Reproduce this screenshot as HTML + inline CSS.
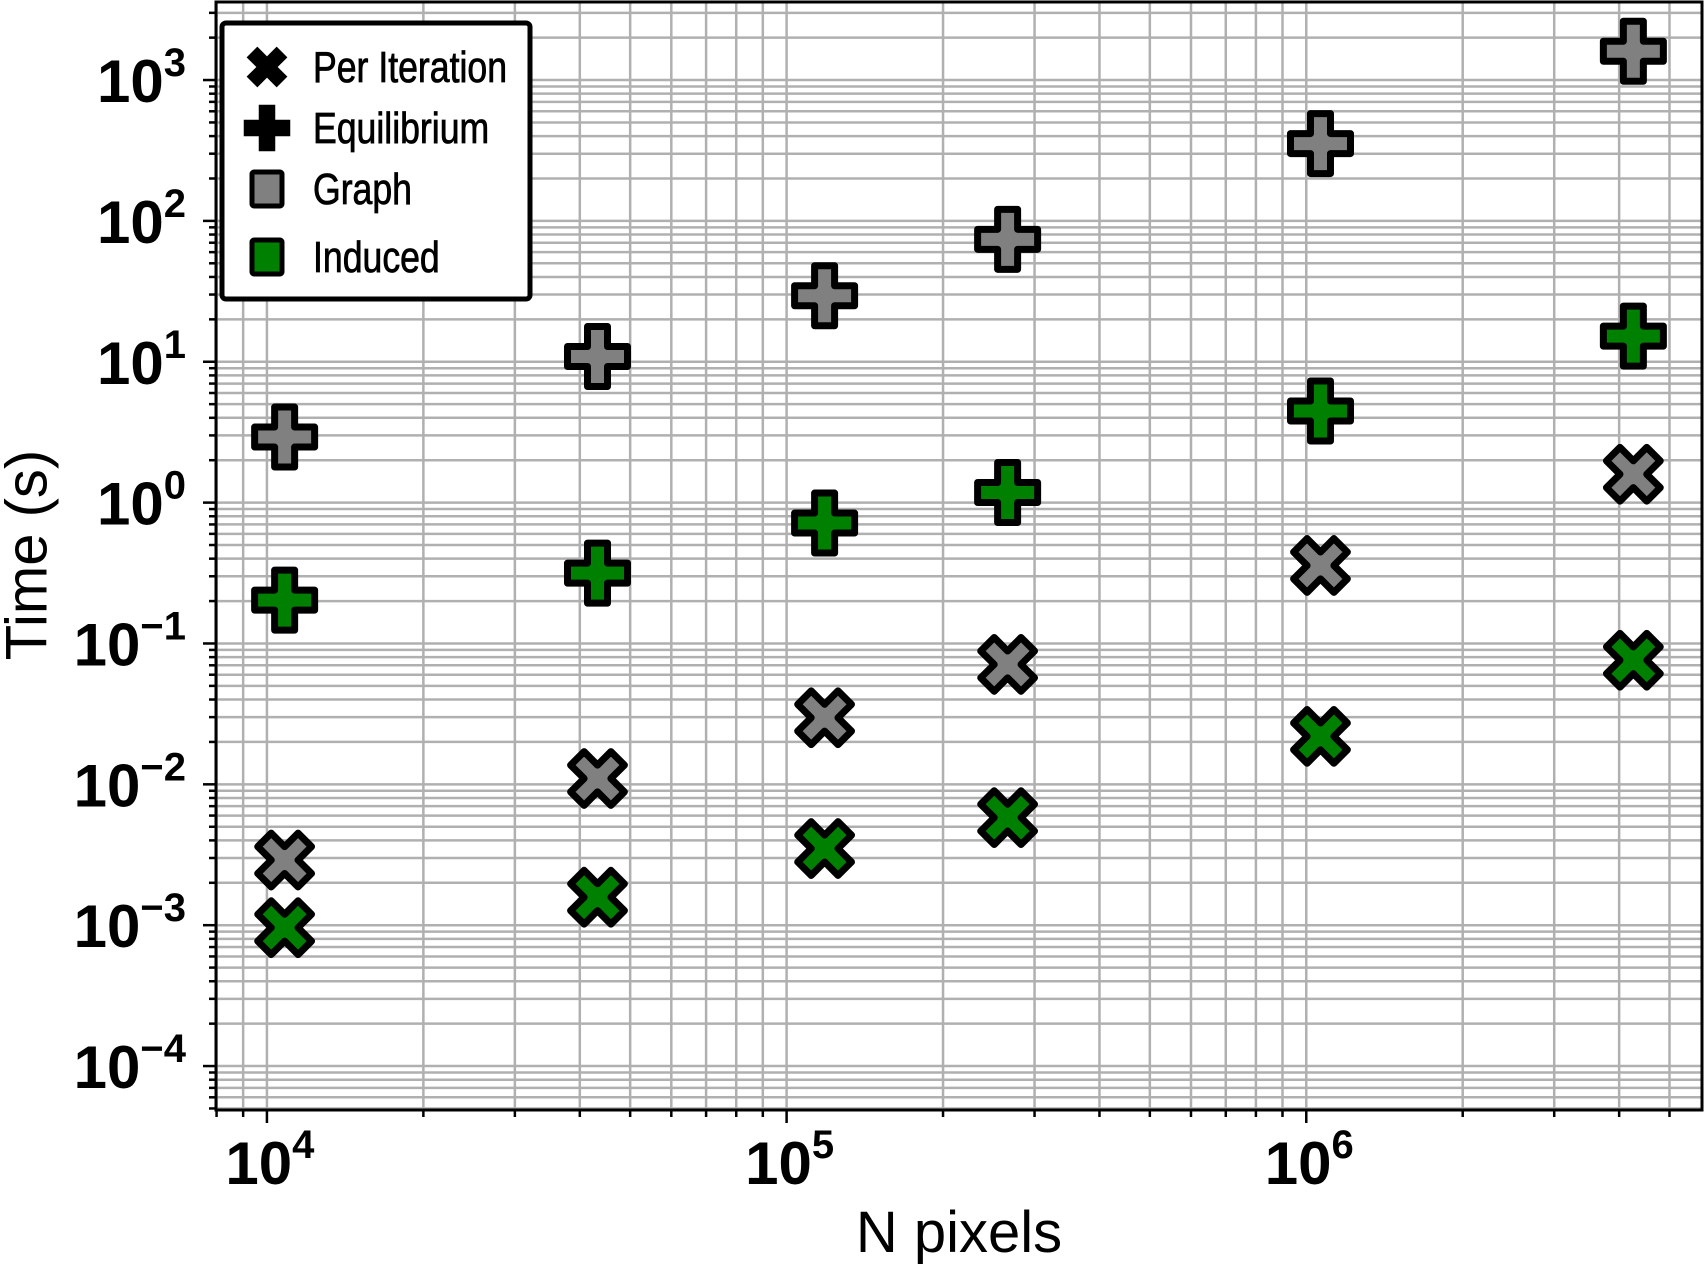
<!DOCTYPE html>
<html><head><meta charset="utf-8"><style>
html,body{margin:0;padding:0;background:#fff;}
svg{display:block;}
text{font-family:"Liberation Sans",sans-serif;}
</style></head><body>
<svg id="chart" width="1705" height="1266" viewBox="0 0 1705 1266" xmlns="http://www.w3.org/2000/svg">
<g id="grid"></g>
<g id="ticks"></g>
<rect x="216" y="2" width="1486" height="1108" fill="none" stroke="#000" stroke-width="3"/>
<g id="marks"></g>
<text x="27" y="555" font-size="58" text-anchor="middle" transform="rotate(-90 27 555)" dominant-baseline="central">Time (s)</text>
<text x="959" y="1252" font-size="58" text-anchor="middle">N pixels</text>
<g id="legend">
<rect x="222" y="23" width="308" height="276" rx="4" fill="#fff" stroke="#000" stroke-width="5"/>
</g>
</svg>
<script>
const xCategories = [10816, 43264, 118336, 266256, 1065024, 4260096];
const graphEquilibrium = [2.92, 10.9, 29.4, 74, 354, 1600];
const inducedEquilibrium = [0.203, 0.316, 0.716, 1.18, 4.47, 15.2];
const graphPerIteration = [0.0029, 0.011, 0.0297, 0.071, 0.358, 1.59];
const inducedPerIteration = [0.00096, 0.00158, 0.0035, 0.0058, 0.0219, 0.076];
const xTickExps = [4, 5, 6];
const yTickExps = [-4, -3, -2, -1, 0, 1, 2, 3];
const legendLabels = ["Per Iteration", "Equilibrium", "Graph", "Induced"];

const NS = "http://www.w3.org/2000/svg";
const X0 = 216, X1 = 1702, Y0 = 2, Y1 = 1110;
const xMin = 3.902, xMax = 6.7615, yMin = -4.312, yMax = 3.554;
function xs(v){ return X0 + (Math.log10(v) - xMin) / (xMax - xMin) * (X1 - X0); }
function ys(v){ return Y1 - (Math.log10(v) - yMin) / (yMax - yMin) * (Y1 - Y0); }
function mk(tag, attrs, parent){ const e = document.createElementNS(NS, tag); for (const k in attrs) e.setAttribute(k, attrs[k]); parent.appendChild(e); return e; }

const grid = document.getElementById('grid');
const ticks = document.getElementById('ticks');
for (let e = 3; e <= 7; e++) for (let m = 1; m <= 9; m++) {
  const v = m * Math.pow(10, e); const lv = Math.log10(v);
  if (lv < xMin || lv > xMax) continue;
  const x = xs(v);
  const gl = mk('line', {x1:x, x2:x, y1:Y0, y2:Y1, stroke:'#b0b0b0', 'stroke-width':2.5}, grid);
  
  
  const tk = mk('line', {x1:x, x2:x, y1:Y1, y2:Y1 + (m === 1 ? 13 : 7), stroke:'#000', 'stroke-width':2.5}, ticks);
  
  
}
for (let e = -5; e <= 4; e++) for (let m = 1; m <= 9; m++) {
  const v = m * Math.pow(10, e); const lv = Math.log10(v);
  if (lv < yMin || lv > yMax) continue;
  const y = ys(v);
  const gl = mk('line', {x1:X0, x2:X1, y1:y, y2:y, stroke:'#b0b0b0', 'stroke-width':2.5}, grid);
  
  
  const tk = mk('line', {x1:X0 - (m === 1 ? 13 : 7), x2:X0, y1:y, y2:y, stroke:'#000', 'stroke-width':2.5}, ticks);
  
  
}
function expLabel(x, y, e, anchor, name){
  const t = mk('text', {x:x, y:y, 'font-size':60, 'font-weight':'bold', 'text-anchor':anchor}, ticks);
  
  
  t.textContent = '10';
  const s = mk('tspan', {dy:-26, 'font-size':40}, t);
  s.textContent = (e < 0 ? '\u2212' + (-e) : '' + e);
}
xTickExps.forEach(e => expLabel(xs(Math.pow(10, e)) + 3, 1184, e, 'middle', 'x-tick-label'));
yTickExps.forEach(e => expLabel(186, ys(Math.pow(10, e)) + 22, e, 'end', 'y-tick-label'));

const plusPath = "M-10,-30 H10 V-10 H30 V10 H10 V30 H-10 V10 H-30 V-10 H-10 Z";
const xPath = (function(){ const p = [[-10,-30],[10,-30],[10,-10],[30,-10],[30,10],[10,10],[10,30],[-10,30],[-10,10],[-30,10],[-30,-10],[-10,-10]];
  const c = Math.SQRT1_2; return 'M' + p.map(q => ((q[0]-q[1])*c*0.95).toFixed(1) + ',' + ((q[0]+q[1])*c*0.95).toFixed(1)).join(' L') + ' Z'; })();

const marks = document.getElementById('marks');
function drawSeries(vals, path, fill, name){
  vals.forEach((v, i) => {
    const p = mk('path', {d:path, fill:fill, stroke:'#000', 'stroke-width':7, 'stroke-linejoin':'round',
      transform:'translate(' + xs(xCategories[i]) + ',' + ys(v) + ')'}, marks);
    
    
  });
}
drawSeries(graphEquilibrium, plusPath, '#808080', 'graph-equilibrium-marker');
drawSeries(inducedEquilibrium, plusPath, '#008000', 'induced-equilibrium-marker');
drawSeries(graphPerIteration, xPath, '#808080', 'graph-per-iteration-marker');
drawSeries(inducedPerIteration, xPath, '#008000', 'induced-per-iteration-marker');

const legend = document.getElementById('legend');
const rowsY = [67, 128, 189, 257];
const hx = 267;
const h0 = mk('path', {d:xPath, fill:'#000', stroke:'#000', 'stroke-width':2, transform:'translate(' + hx + ',' + rowsY[0] + ') scale(0.72)'}, legend);


const h1 = mk('path', {d:plusPath, fill:'#000', stroke:'#000', 'stroke-width':2, transform:'translate(' + hx + ',' + rowsY[1] + ') scale(0.75)'}, legend);


const h2 = mk('rect', {x:hx-15, y:rowsY[2]-17, width:30, height:34, fill:'#808080', stroke:'#000', 'stroke-width':5, rx:2}, legend);


const h3 = mk('rect', {x:hx-15, y:rowsY[3]-17, width:30, height:34, fill:'#008000', stroke:'#000', 'stroke-width':5, rx:2}, legend);


legendLabels.forEach((lab, i) => {
  const t = mk('text', {x:313, y:rowsY[i] + 15, 'font-size':44, stroke:'#000', 'stroke-width':0.8, transform:'translate(313,0) scale(0.81,1) translate(-313,0)'}, legend);
  
  
  t.textContent = lab;
});
</script>
</body></html>
